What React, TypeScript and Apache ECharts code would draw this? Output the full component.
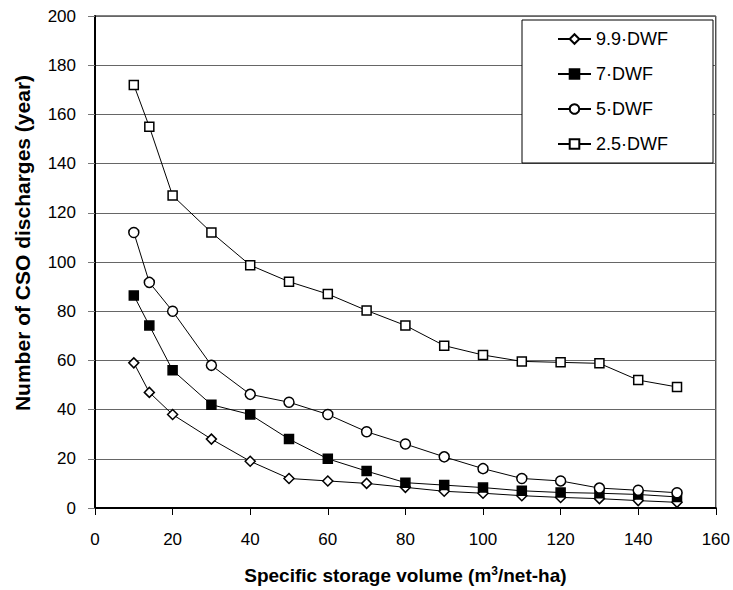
import React, { useEffect, useRef } from "react";
import * as echarts from "echarts";

const volumes = [10, 14, 20, 30, 40, 50, 60, 70, 80, 90, 100, 110, 120, 130, 140, 150];
const dwf99 = [59, 47, 38, 28, 19, 12, 11, 10, 8.4, 6.8, 6, 5, 4.3, 3.8, 3, 2.3];
const dwf7 = [86.4, 74.2, 56, 42, 38, 28, 20, 15, 10.3, 9.3, 8.3, 7, 6.3, 6, 5.5, 4.5];
const dwf5 = [112, 91.7, 80, 58, 46.2, 43, 38, 31, 26, 20.8, 16, 12, 11, 8.1, 7.2, 6.2];
const dwf25 = [172, 155, 127, 112, 98.7, 92, 87, 80.3, 74.2, 66, 62.2, 59.6, 59.2, 58.8, 52, 49.2];
const seriesNames = ["9.9·DWF", "7·DWF", "5·DWF", "2.5·DWF"];
const yTitle = "Number of CSO discharges (year)";

const FONT = "Liberation Sans, Arial, sans-serif";

export default function App() {
  const ref = useRef<HTMLDivElement>(null);
  useEffect(() => {
    if (!ref.current) return;
    const chart = echarts.init(ref.current, null, { renderer: "svg" });
    const mk = (name: string, data: number[], symbol: string, size: number, fill: string) => ({
      name,
      type: "line",
      data: volumes.map((v, i) => [v, data[i]]),
      symbol,
      symbolSize: size,
      showAllSymbol: true,
      lineStyle: { color: "#000", width: 1 },
      itemStyle: { color: fill, borderColor: "#000", borderWidth: 1.5 },
      emphasis: { disabled: true },
    });
    chart.setOption({
      animation: false,
      textStyle: { fontFamily: FONT },
      grid: { left: 95, right: 17, top: 16, bottom: 81, show: true, borderColor: "#000", borderWidth: 1, backgroundColor: "transparent" },
      legend: {
        orient: "vertical",
        left: 522,
        top: 20,
        data: seriesNames,
        backgroundColor: "#fff",
        borderColor: "#000",
        borderWidth: 1,
        padding: [10, 45, 10, 35],
        itemWidth: 33,
        itemHeight: 12,
        itemGap: 17,
        textStyle: { fontSize: 18, lineHeight: 18, color: "#000", fontFamily: FONT },
      },
      graphic: [
        {
          type: "text",
          x: 22,
          y: 243,
          rotation: Math.PI / 2,
          style: {
            text: yTitle,
            font: "bold 21px Liberation Sans, Arial, sans-serif",
            fill: "#000",
            align: "center",
            verticalAlign: "middle",
          },
        },
      ],
      xAxis: {
        type: "value",
        min: 0,
        max: 160,
        interval: 20,
        name: "{b|Specific storage volume (m}{s|3}{b|/net-ha)}",
        nameLocation: "middle",
        nameGap: 57,
        nameTextStyle: {
          rich: {
            b: { fontSize: 19, fontWeight: "bold", color: "#000", fontFamily: FONT },
            s: { fontSize: 12, fontWeight: "bold", color: "#000", fontFamily: FONT, verticalAlign: "top", padding: [0, 0, 9, 0] },
          },
        },
        axisLine: { lineStyle: { color: "#000", width: 2 } },
        axisTick: { show: true, inside: false, length: 7, lineStyle: { color: "#000", width: 1 } },
        axisLabel: { fontSize: 17, color: "#000", margin: 23, fontFamily: FONT },
        splitLine: { show: false },
      },
      yAxis: {
        type: "value",
        min: 0,
        max: 200,
        interval: 20,
        axisLine: { show: true, lineStyle: { color: "#000", width: 2 } },
        axisTick: { show: true, length: 7, lineStyle: { color: "#777", width: 1 } },
        axisLabel: { fontSize: 17, color: "#000", margin: 19, fontFamily: FONT },
        splitLine: { show: true, lineStyle: { color: "#666", width: 1 } },
      },
      series: [
        mk(seriesNames[0], dwf99, "diamond", 10, "#fff"),
        mk(seriesNames[1], dwf7, "rect", 9, "#000"),
        mk(seriesNames[2], dwf5, "circle", 10, "#fff"),
        mk(seriesNames[3], dwf25, "rect", 9, "#fff"),
      ],
    });
    return () => chart.dispose();
  }, []);
  return <div ref={ref} style={{ width: 733, height: 590, position: "absolute", left: 0, top: 0 }} />;
}
